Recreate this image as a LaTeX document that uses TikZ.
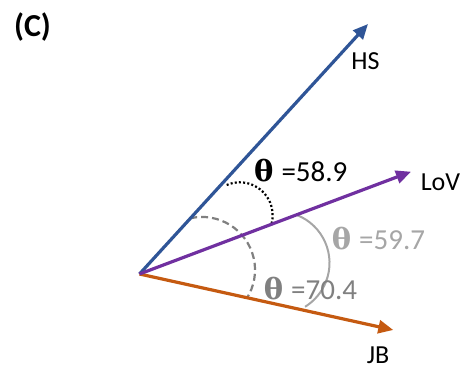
\documentclass[tikz,border=0pt]{standalone}
\usepackage{fontspec}
\setmainfont{Carlito}
\newfontfamily\thfont{DejaVu Serif}
\usetikzlibrary{arrows.meta}
\definecolor{hsblue}{HTML}{2F5597}
\definecolor{lovpurple}{HTML}{7030A0}
\definecolor{jborange}{HTML}{C55A11}
\definecolor{darkgr}{HTML}{808080}
\definecolor{lightgr}{HTML}{A6A6A6}
\tikzset{
  vec/.style={line width=3.2pt, -{Triangle[length=15pt,width=13pt]}},
  lbl/.style={font=\fontsize{26}{30}\selectfont, inner sep=0pt},
  anglbl/.style={font=\fontsize{29}{33}\selectfont, inner sep=0pt},
}
\newcommand{\thg}{{\thfont\bfseries θ}}
\begin{document}
\begin{tikzpicture}[x=1pt,y=1pt]
\useasboundingbox (0,0) rectangle (462,369);
\coordinate (O) at (139.5,95);
\coordinate (hs) at (368,345);
\coordinate (lov) at (411,197.3);
\coordinate (jb) at (393.3,39);
% arcs
\draw[black, line width=2.2pt, dash pattern=on 2pt off 2.2pt] (226.7,184) arc[start angle=113.2, end angle=-14, radius=33];
\draw[darkgr, line width=2.2pt, dash pattern=on 7pt off 4pt] (190.2,150.7) arc[start angle=102.9, end angle=-32.5, radius=53];
\draw[lightgr, line width=2pt] (296.8,154) arc[start angle=68.6, end angle=-58.3, radius=51.5];
% vectors
\draw[vec, hsblue] (O) -- (hs);
\draw[vec, jborange] (O) -- (jb);
\draw[vec, lovpurple] (O) -- (lov);
% labels
\node[font=\fontsize{32}{36}\selectfont\bfseries, inner sep=0pt] (title) at (32.5,341.5) {(C)};
\node[lbl] (hsl) at (365.5,308) {HS};
\node[lbl] (lovl) at (440.5,187) {LoV};
\node[lbl] (jbl) at (378,14) {JB};
\node[anglbl, black] (a1) at (300.8,198) {\thg\hspace{8pt}=58.9};
\node[anglbl, lightgr] (a2) at (378.5,130.5) {\thg\hspace{8pt}=59.7};
\node[anglbl, darkgr] (a3) at (310.5,80.5) {\thg\hspace{8pt}=70.4};
\end{tikzpicture}
\end{document}
